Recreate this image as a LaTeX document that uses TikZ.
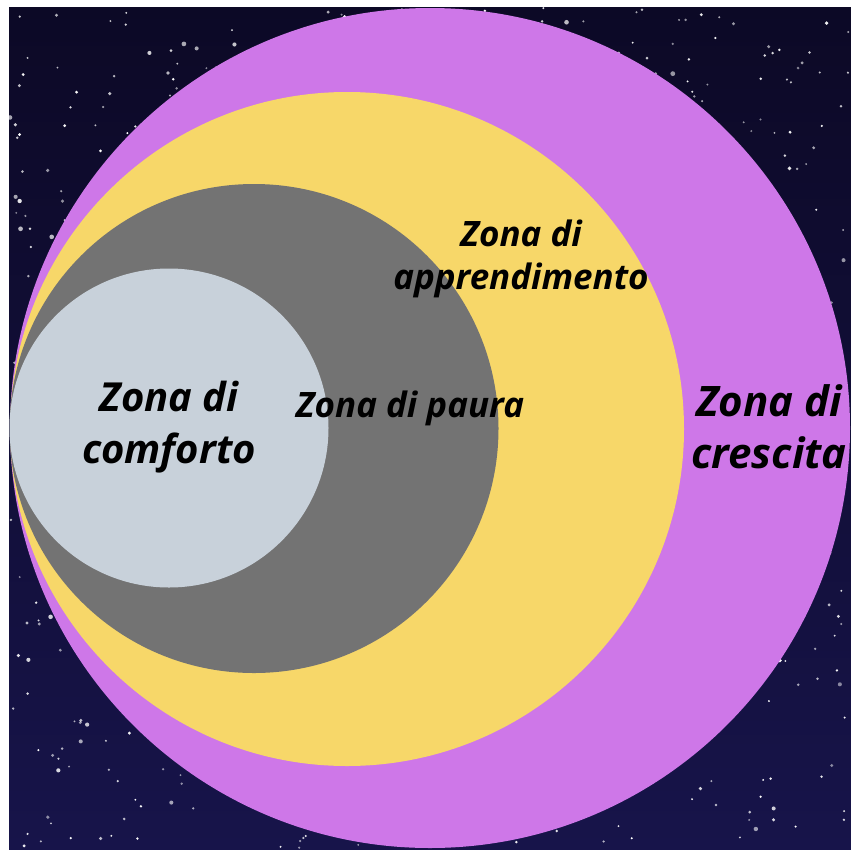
\documentclass[tikz,border=0pt]{standalone}
\usepackage{fontspec}
\setmainfont{Open Sans}
\definecolor{skytop}{HTML}{0C0926}
\definecolor{skybot}{HTML}{17144A}
\definecolor{zpurple}{HTML}{CE77E8}
\definecolor{zyellow}{HTML}{F7D769}
\definecolor{zgray}{HTML}{737373}
\definecolor{zlight}{HTML}{C8D1DA}
\tikzset{
  zlabel/.style={font=\bfseries\itshape, text=black, align=center, inner sep=0pt},
  star/.style={fill=white}
}
\begin{document}
\begin{tikzpicture}[x=1pt,y=-1pt]
\useasboundingbox (0,0) rectangle (851,849);
\fill[white] (0,0) rectangle (851,849);
\shade[top color=skytop,bottom color=skybot] (9,7) rectangle (851,849);
\pgfmathsetseed{7}
\foreach \i in {1,...,1000}{
  \pgfmathsetmacro\sx{10+840*rnd}
  \pgfmathsetmacro\sy{8+840*rnd}
  \pgfmathsetmacro\sr{1.0+1.6*rnd*rnd}
  \pgfmathsetmacro\so{0.5+0.5*rnd}
  \fill[star,opacity=\so] (\sx,\sy) circle (\sr pt);
}
\fill[zpurple] (430,428) circle (420pt);
\fill[zyellow] (347,429) circle (337pt);
\fill[zgray] (254,428.5) circle (244.5pt);
\fill[zlight] (169,428) circle (159.5pt);
\node[zlabel,font=\fontsize{40}{52}\selectfont\bfseries\itshape] (comfort) at (169,427) {Zona di\\comforto};
\node[zlabel,font=\fontsize{35}{40}\selectfont\bfseries\itshape] (paura) at (410,408) {Zona di paura};
\node[zlabel,font=\fontsize{35}{43}\selectfont\bfseries\itshape] (appr) at (521,259) {Zona di\\apprendimento};
\node[zlabel,font=\fontsize{42}{52}\selectfont\bfseries\itshape] (cresc) at (769,427) {Zona di\\crescita};
\end{tikzpicture}
\end{document}
